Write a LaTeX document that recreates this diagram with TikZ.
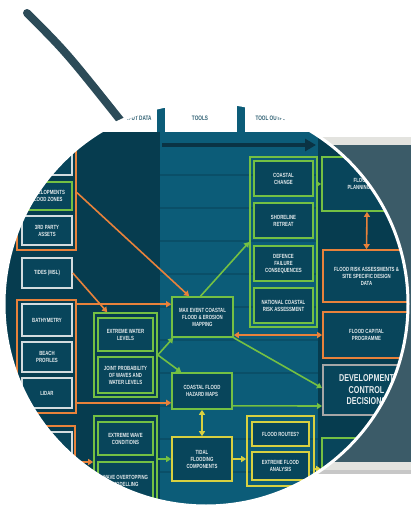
\documentclass[tikz,border=0pt]{standalone}
\usepackage{fontspec}
\newfontfamily\boxfont[FakeStretch=0.72]{Liberation Sans}
\usetikzlibrary{arrows.meta,positioning,calc}

\definecolor{darkbg}{HTML}{063C4F}
\definecolor{midbg}{HTML}{0C5C78}
\definecolor{stripe}{HTML}{0A4F68}
\definecolor{boxfill}{HTML}{08455B}
\definecolor{lime}{HTML}{74C043}
\definecolor{orng}{HTML}{E8823B}
\definecolor{yell}{HTML}{D8D040}
\definecolor{wline}{HTML}{D3DCDF}
\definecolor{boxtext}{HTML}{E6ECEE}
\definecolor{slate}{HTML}{3B5B68}
\definecolor{lightg}{HTML}{E3E3DF}
\definecolor{handlec}{HTML}{2C4B58}
\definecolor{headtext}{HTML}{2F6073}
\definecolor{darkarrow}{HTML}{0A3344}

\tikzset{
  box/.style={draw, line width=1.6pt, fill=boxfill, text=boxtext, align=center, inner sep=1pt,
    font=\boxfont\bfseries\fontsize{6}{7}\selectfont},
  gbox/.style={box, draw=lime},
  obox/.style={box, draw=orng},
  wbox/.style={box, draw=wline},
  ybox/.style={box, draw=yell},
  grp/.style={draw, line width=1.6pt, inner sep=0pt},
  tip/.style={-{Triangle[width=6pt,length=5pt]}},
  dtip/.style={{Triangle[width=6pt,length=5pt]}-{Triangle[width=6pt,length=5pt]}},
  headlabel/.style={text=headtext, font=\boxfont\bfseries\fontsize{6.5}{6.5}\selectfont}
}

\begin{document}
\begin{tikzpicture}[x=1pt, y=-1pt]
  \useasboundingbox (0,0) rectangle (411,506);
  \fill[white] (0,0) rectangle (411,506);

  % handle and the panel behind the lens
  \draw[handlec, line width=8pt, line cap=round] (27,13) .. controls (66,52) .. (121,121);
  \fill[lightg] (300,137) rectangle (411,470);
  \fill[slate] (300,145) rectangle (411,462);
  \fill[black!22] (300,470) rectangle (411,474);

  \begin{scope}
    \clip (206,304) circle (202pt);
    \fill[darkbg] (0,100) rectangle (411,510);
    \fill[midbg] (160,132) rectangle (318,510);
    \foreach \y in {175,208,...,480}
      \draw[stripe, line width=2pt] (160,\y) -- (318,\y);
    \fill[white] (0,100) rectangle (411,132);
    \fill[midbg] (157,106) rectangle (165,132);
    \fill[midbg] (237,105) rectangle (245,132);
    \node (hIn) [headlabel, anchor=east] at (155,118) {INPUT DATA};
    \node (hTo) [headlabel] at (200,118) {TOOLS};
    \node (hOut) [headlabel, anchor=west] at (252,118) {TOOL OUTPUTS};
    \coordinate (aS) at (162,145);
    \coordinate (aE) at (316,145);
    \draw[darkarrow, line width=4pt, -{Triangle[width=12pt,length=11pt]}] (aS) -- (aE);

    % input data
    \node (G1) [grp, draw=orng, minimum width=59pt, minimum height=115pt] at (46.5,192.5) {};
    \node (DA) [wbox, minimum width=50pt, minimum height=35pt] at (47,157.5) {DEFENCE\\ASSETS};
    \node (FZ) [gbox, minimum width=50pt, minimum height=28pt] at (47,196) {DEVELOPMENTS\\FLOOD ZONES};
    \node (TP) [wbox, minimum width=50pt, minimum height=29pt] at (47,230.5) {3RD PARTY\\ASSETS};
    \node (TI) [wbox, minimum width=50pt, minimum height=30pt] at (47,273) {TIDES (MSL)};
    \node (G2) [grp, draw=orng, minimum width=59pt, minimum height=113pt] at (46.5,356.5) {};
    \node (BA) [wbox, minimum width=50pt, minimum height=32pt] at (47,320) {BATHYMETRY};
    \node (BP) [wbox, minimum width=50pt, minimum height=30pt] at (47,357) {BEACH\\PROFILES};
    \node (LI) [wbox, minimum width=50pt, minimum height=30pt] at (47,393) {LIDAR};
    \node (G3) [grp, draw=orng, minimum width=58pt, minimum height=94pt] at (46,473) {};
    \node (SL) [wbox, minimum width=50pt, minimum height=38pt] at (47,451) {SEA LEVEL\\RISE};

    % tools
    \node (GA) [grp, draw=lime, minimum width=63pt, minimum height=84pt] at (125.5,355) {};
    \node (A1) [gbox, minimum width=55pt, minimum height=33pt] at (125.5,334.5) {EXTREME WATER\\LEVELS};
    \node (A2) [gbox, minimum width=55pt, minimum height=36pt] at (125.5,375) {JOINT PROBABILITY\\OF WAVES AND\\WATER LEVELS};
    \node (GB) [grp, draw=lime, minimum width=63pt, minimum height=104pt] at (125.5,468) {};
    \node (B1) [gbox, minimum width=55pt, minimum height=33pt] at (125.5,438.5) {EXTREME WAVE\\CONDITIONS};
    \node (B2) [gbox, minimum width=55pt, minimum height=38pt] at (125.5,481) {WAVE OVERTOPPING\\MODELLING};
    \node (M) [gbox, minimum width=61pt, minimum height=40pt] at (202.5,317) {MAX EVENT COASTAL\\FLOOD \& EROSION\\MAPPING};
    \node (C) [gbox, minimum width=60pt, minimum height=36pt] at (202,391) {COASTAL FLOOD\\HAZARD MAPS};
    \node (Y) [ybox, minimum width=60pt, minimum height=44pt] at (202,459) {TIDAL\\FLOODING\\COMPONENTS};

    % tool outputs
    \node (GC) [grp, draw=lime, minimum width=67pt, minimum height=170pt] at (283.5,242) {};
    \node (C1) [gbox, minimum width=59pt, minimum height=35pt] at (283.5,178.5) {COASTAL\\CHANGE};
    \node (C2) [gbox, minimum width=59pt, minimum height=35pt] at (283.5,220.5) {SHORELINE\\RETREAT};
    \node (C3) [gbox, minimum width=59pt, minimum height=35pt] at (283.5,263.5) {DEFENCE\\FAILURE\\CONSEQUENCES};
    \node (C4) [gbox, minimum width=59pt, minimum height=35pt] at (283.5,305.5) {NATIONAL COASTAL\\RISK ASSESSMENT};
    \node (YG) [grp, draw=yell, minimum width=67pt, minimum height=70pt] at (280.5,451) {};
    \node (Y1) [ybox, minimum width=57pt, minimum height=24pt] at (280.5,434) {FLOOD ROUTES?};
    \node (Y2) [ybox, minimum width=57pt, minimum height=28pt] at (280.5,466) {EXTREME FLOOD\\ANALYSIS};

    % decisions
    \node (R1) [gbox, minimum width=90pt, minimum height=54pt] at (367,184) {FLOOD RISK\\PLANNING AREAS};
    \node (R2) [obox, minimum width=87pt, minimum height=52pt] at (366.5,276) {FLOOD RISK ASSESSMENTS \&\\SITE SPECIFIC DESIGN\\DATA};
    \node (R3) [obox, minimum width=87pt, minimum height=46pt] at (366.5,335) {FLOOD CAPITAL\\PROGRAMME};
    \node (R4) [wbox, draw=black!35, line width=2pt, minimum width=87pt, minimum height=50pt,
      font=\boxfont\bfseries\fontsize{10}{11.5}\selectfont] at (366.5,390) {DEVELOPMENT\\CONTROL\\DECISIONS};
    \node (R5) [gbox, minimum width=90pt, minimum height=62pt] at (367,469) {INVESTMENT\\PLANNING};

    % connectors
    \draw[orng, line width=1.6pt, tip] (G1.east) -- ($(M.north west)+(18,0)$);
    \draw[orng, line width=1.6pt, tip] (TI.east) -- ($(GA.north west)+(14,0)$);
    \draw[orng, line width=1.6pt, tip] ($(G2.north east)+(0,5)$) -- ($(M.north west)+(0,8)$);
    \draw[orng, line width=1.6pt, tip] ($(G2.south east)+(0,-11)$) -- ($(C.south west)+(0,-7)$);
    \draw[orng, line width=1.6pt, tip] ($(G3.east)+(0,-11)$) -- ($(GB.west)+(0,-6)$);
    \draw[lime, line width=1.6pt, tip] (GA.east) -- ($(M.south west)+(2,0)$);
    \draw[lime, line width=1.6pt, tip] (GA.east) -- ($(C.north west)+(10,0)$);
    \draw[lime, line width=1.6pt, tip] ($(M.north)+(-2,0)$) -- (GC.west);
    \draw[lime, line width=1.6pt, tip] (GC.east |- R1.west) -- (R1.west);
    \draw[orng, line width=1.6pt, dtip] (R1.south) -- (R2.north);
    \draw[orng, line width=1.6pt, dtip] (M.east |- R3.west) -- (R3.west);
    \draw[lime, line width=1.6pt, tip] (M.south east) -- ($(R4.west)+(0,-2)$);
    \draw[lime, line width=1.6pt, tip] ($(C.south east)+(0,-4)$) -- ($(R4.south west)+(0,-10)$);
    \draw[yell, line width=1.6pt, dtip] (C.south) -- (Y.north);
    \draw[lime, line width=1.6pt, tip] (GB.east |- Y.west) -- (Y.west);
    \draw[yell, line width=1.6pt, tip] (Y.east) -- (YG.west |- Y.east);
    \draw[yell, line width=1.6pt, tip] (YG.east |- R5.west) -- (R5.west);
  \end{scope}
  \draw[white, line width=3pt] (206,304) circle (202pt);
\end{tikzpicture}
\end{document}
